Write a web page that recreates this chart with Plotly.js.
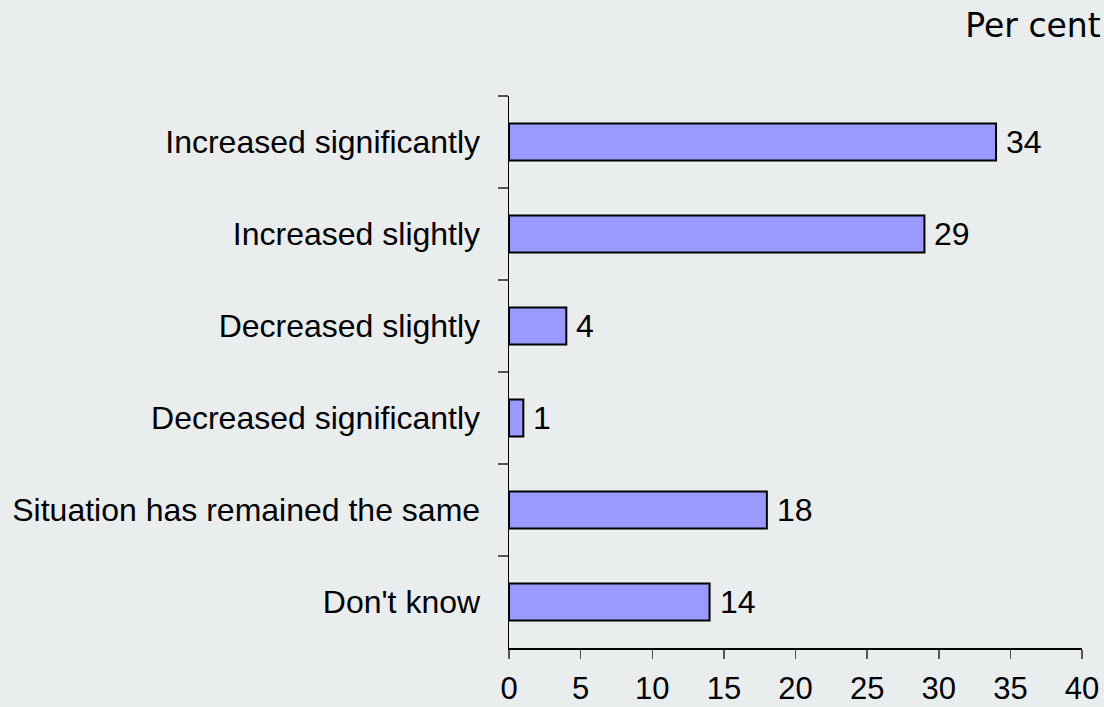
<!DOCTYPE html>
<html>
<head>
<meta charset="utf-8">
<script src="https://cdn.plot.ly/plotly-3.0.1.min.js"></script>
<style>
html,body{margin:0;padding:0;background:#eaeded;}
#chart{width:1104px;height:707px;}
</style>
</head>
<body>
<div id="chart"></div>
<script>
const categories = ["Increased significantly", "Increased slightly", "Decreased slightly", "Decreased significantly", "Situation has remained the same", "Don't know"];
const values = [34, 29, 4, 1, 18, 14];
const xTicks = [0, 5, 10, 15, 20, 25, 30, 35, 40];
const unitLabel = "Per cent";

const bg = '#eaeded';
const labelFont = {family: 'Liberation Sans, Arial, sans-serif', size: 32, color: '#000'};
const tickFontX = {family: 'Liberation Sans, Arial, sans-serif', size: 31, color: '#000'};

const trace = {
  type: 'bar',
  orientation: 'h',
  y: categories,
  x: values,
  width: 0.4,
  marker: {color: '#9999ff', line: {color: '#000', width: 2}},
  hoverinfo: 'skip'
};

const annotations = categories.map((c, i) => ({
  x: values[i], y: c, xref: 'x', yref: 'y',
  text: String(values[i]), showarrow: false,
  xanchor: 'left', yanchor: 'middle', xshift: 8,
  font: labelFont
}));

const layout = {
  width: 1104, height: 707,
  paper_bgcolor: bg, plot_bgcolor: bg,
  margin: {l: 509, r: 22, t: 96, b: 59, pad: 0},
  showlegend: false,
  title: {
    text: unitLabel, x: 0.997, xanchor: 'right', xref: 'container',
    y: 0.964, yanchor: 'middle', yref: 'container',
    font: {family: 'DejaVu Sans, Verdana, sans-serif', size: 33, color: '#000'}
  },
  xaxis: {
    range: [0, 40], tickvals: xTicks, ticktext: xTicks.map(String),
    showgrid: false, zeroline: false,
    showline: true, linecolor: '#000', linewidth: 1.5,
    ticks: 'outside', ticklen: 9, tickwidth: 1.5, tickcolor: '#555',
    tickfont: tickFontX, ticklabelstandoff: 3, fixedrange: true
  },
  yaxis: {
    type: 'category', categoryorder: 'array', categoryarray: categories,
    autorange: 'reversed',
    showgrid: false, zeroline: false,
    showline: true, linecolor: '#000', linewidth: 1.5,
    ticks: 'outside', ticklen: 10, tickwidth: 1.5, tickcolor: '#555',
    tickson: 'boundaries',
    tickfont: labelFont, ticklabelstandoff: 21, fixedrange: true
  },
  annotations: annotations
};

Plotly.newPlot('chart', [trace], layout, {displayModeBar: false, staticPlot: true});
</script>
</body>
</html>
